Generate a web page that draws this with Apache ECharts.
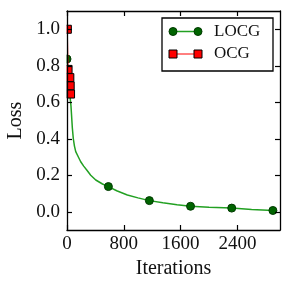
<!DOCTYPE html>
<html><head><meta charset="utf-8">
<script src="https://cdn.jsdelivr.net/npm/echarts@6/dist/echarts.min.js"></script>
<style>html,body{margin:0;padding:0;background:#fff}#c{width:291px;height:291px}</style>
</head><body><div id="c"></div>
<script>
// LOCG curve (iterations, loss)
const locgIter = [0, 20, 40, 56, 75, 89, 105, 123, 160, 193, 235, 278, 334, 405, 500, 583, 700, 850, 1000, 1160, 1350, 1550, 1740, 2000, 2320, 2600, 2900];
const locgLoss = [0.837, 0.72, 0.64, 0.58, 0.46, 0.40, 0.36, 0.329, 0.30, 0.274, 0.25, 0.229, 0.20, 0.174, 0.152, 0.138, 0.115, 0.092, 0.076, 0.061, 0.049, 0.039, 0.03, 0.025, 0.02, 0.013, 0.007];
const locgMarkerIter = [0, 583, 1160, 1740, 2320, 2900];
// OCG curve
const ocgIter = [5, 15, 40, 45, 50];
const ocgLoss = [1.0, 0.78, 0.735, 0.69, 0.645];
// ticks
const xTicks = [0, 800, 1600, 2400];
const yTicks = [0.0, 0.2, 0.4, 0.6, 0.8, 1.0];
const seriesNames = ['LOCG', 'OCG'];

const FONT = "'Liberation Serif','DejaVu Serif',serif";
const locgLine = '#22a022', locgFill = '#006400', ocgColor = '#ff0000';

const chart = echarts.init(document.getElementById('c'), null, {renderer: 'canvas'});
const markSet = new Set(locgMarkerIter);
const locgData = locgIter.map((x, i) => ({value: [x, locgLoss[i]], symbol: markSet.has(x) ? 'circle' : 'none'}));
const ocgData = ocgIter.map((x, i) => [x, ocgLoss[i]]);

const axisCommon = {
  type: 'value', z: 100,
  axisLine: {show: true, onZero: false, lineStyle: {color: '#000', width: 1.3}},
  splitLine: {show: false}
};
chart.setOption({
  animation: false,
  grid: {left: 67, right: 11, top: 11, bottom: 61, containLabel: false, outerBoundsMode: 'none'},
  xAxis: [
    Object.assign({}, axisCommon, {
      min: 0, max: 3000, position: 'bottom',
      axisTick: {inside: true, length: 5, lineStyle: {color: '#000', width: 1.2}, customValues: xTicks},
      axisLabel: {customValues: xTicks, formatter: v => String(v), color: '#111', fontFamily: FONT, fontSize: 19, margin: 5},
      name: 'Iterations', nameLocation: 'middle', nameGap: 26,
      nameTextStyle: {color: '#111', fontFamily: FONT, fontSize: 20}
    }),
    Object.assign({}, axisCommon, {
      min: 0, max: 3000, position: 'top',
      axisTick: {inside: true, length: 5, lineStyle: {color: '#000', width: 1.2}, customValues: xTicks},
      axisLabel: {show: false}
    })
  ],
  yAxis: [
    Object.assign({}, axisCommon, {
      min: -0.1, max: 1.1, position: 'left',
      axisTick: {inside: true, length: 5, lineStyle: {color: '#000', width: 1.2}, customValues: yTicks},
      axisLabel: {customValues: yTicks, formatter: v => v.toFixed(1), color: '#111', fontFamily: FONT, fontSize: 19, margin: 7},
      name: 'Loss', nameLocation: 'middle', nameRotate: 90, nameGap: 40,
      nameTextStyle: {color: '#111', fontFamily: FONT, fontSize: 20}
    }),
    Object.assign({}, axisCommon, {
      min: -0.1, max: 1.1, position: 'right',
      axisTick: {inside: true, length: 5, lineStyle: {color: '#000', width: 1.2}, customValues: yTicks},
      axisLabel: {show: false}
    })
  ],
  series: [
    {
      name: seriesNames[0], type: 'line', xAxisIndex: 0, yAxisIndex: 0, z: 2,
      data: locgData, showSymbol: true, symbolSize: 8,
      lineStyle: {color: locgLine, width: 1.5},
      itemStyle: {color: locgFill, borderColor: '#003a00', borderWidth: 1}
    },
    {
      name: seriesNames[1], type: 'line', xAxisIndex: 0, yAxisIndex: 0, z: 3,
      data: ocgData, symbol: 'rect', symbolSize: 8,
      lineStyle: {color: ocgColor, width: 1},
      itemStyle: {color: ocgColor, borderColor: '#000', borderWidth: 1}
    }
  ],
  graphic: [
    // mask left of the plot so markers at x=0 appear clipped
    {type: 'rect', z: 50, shape: {x: 61, y: 11, width: 5.6, height: 219}, style: {fill: '#fff'}, silent: true},
    {type: 'group', z: 200, children: [
      {type: 'rect', z: 200, shape: {x: 162, y: 18, width: 111, height: 53}, style: {fill: '#fff', stroke: '#000', lineWidth: 1.3}},
      {type: 'line', z: 201, shape: {x1: 173, y1: 31.5, x2: 198, y2: 31.5}, style: {stroke: locgLine, lineWidth: 1.5}},
      {type: 'circle', z: 202, shape: {cx: 173, cy: 31.5, r: 4}, style: {fill: locgFill, stroke: '#003a00', lineWidth: 1}},
      {type: 'circle', z: 202, shape: {cx: 198, cy: 31.5, r: 4}, style: {fill: locgFill, stroke: '#003a00', lineWidth: 1}},
      {type: 'text', z: 202, x: 214, y: 31.5, style: {text: seriesNames[0], font: "17px 'Liberation Serif','DejaVu Serif',serif", fill: '#111', textVerticalAlign: 'middle', verticalAlign: 'middle'}},
      {type: 'line', z: 201, shape: {x1: 173, y1: 54, x2: 198, y2: 54}, style: {stroke: ocgColor, lineWidth: 1}},
      {type: 'rect', z: 202, shape: {x: 169, y: 50, width: 8, height: 8}, style: {fill: ocgColor, stroke: '#000', lineWidth: 1}},
      {type: 'rect', z: 202, shape: {x: 194, y: 50, width: 8, height: 8}, style: {fill: ocgColor, stroke: '#000', lineWidth: 1}},
      {type: 'text', z: 202, x: 214, y: 54, style: {text: seriesNames[1], font: "17px 'Liberation Serif','DejaVu Serif',serif", fill: '#111', textVerticalAlign: 'middle', verticalAlign: 'middle'}}
    ]}
  ]
});
</script></body></html>
